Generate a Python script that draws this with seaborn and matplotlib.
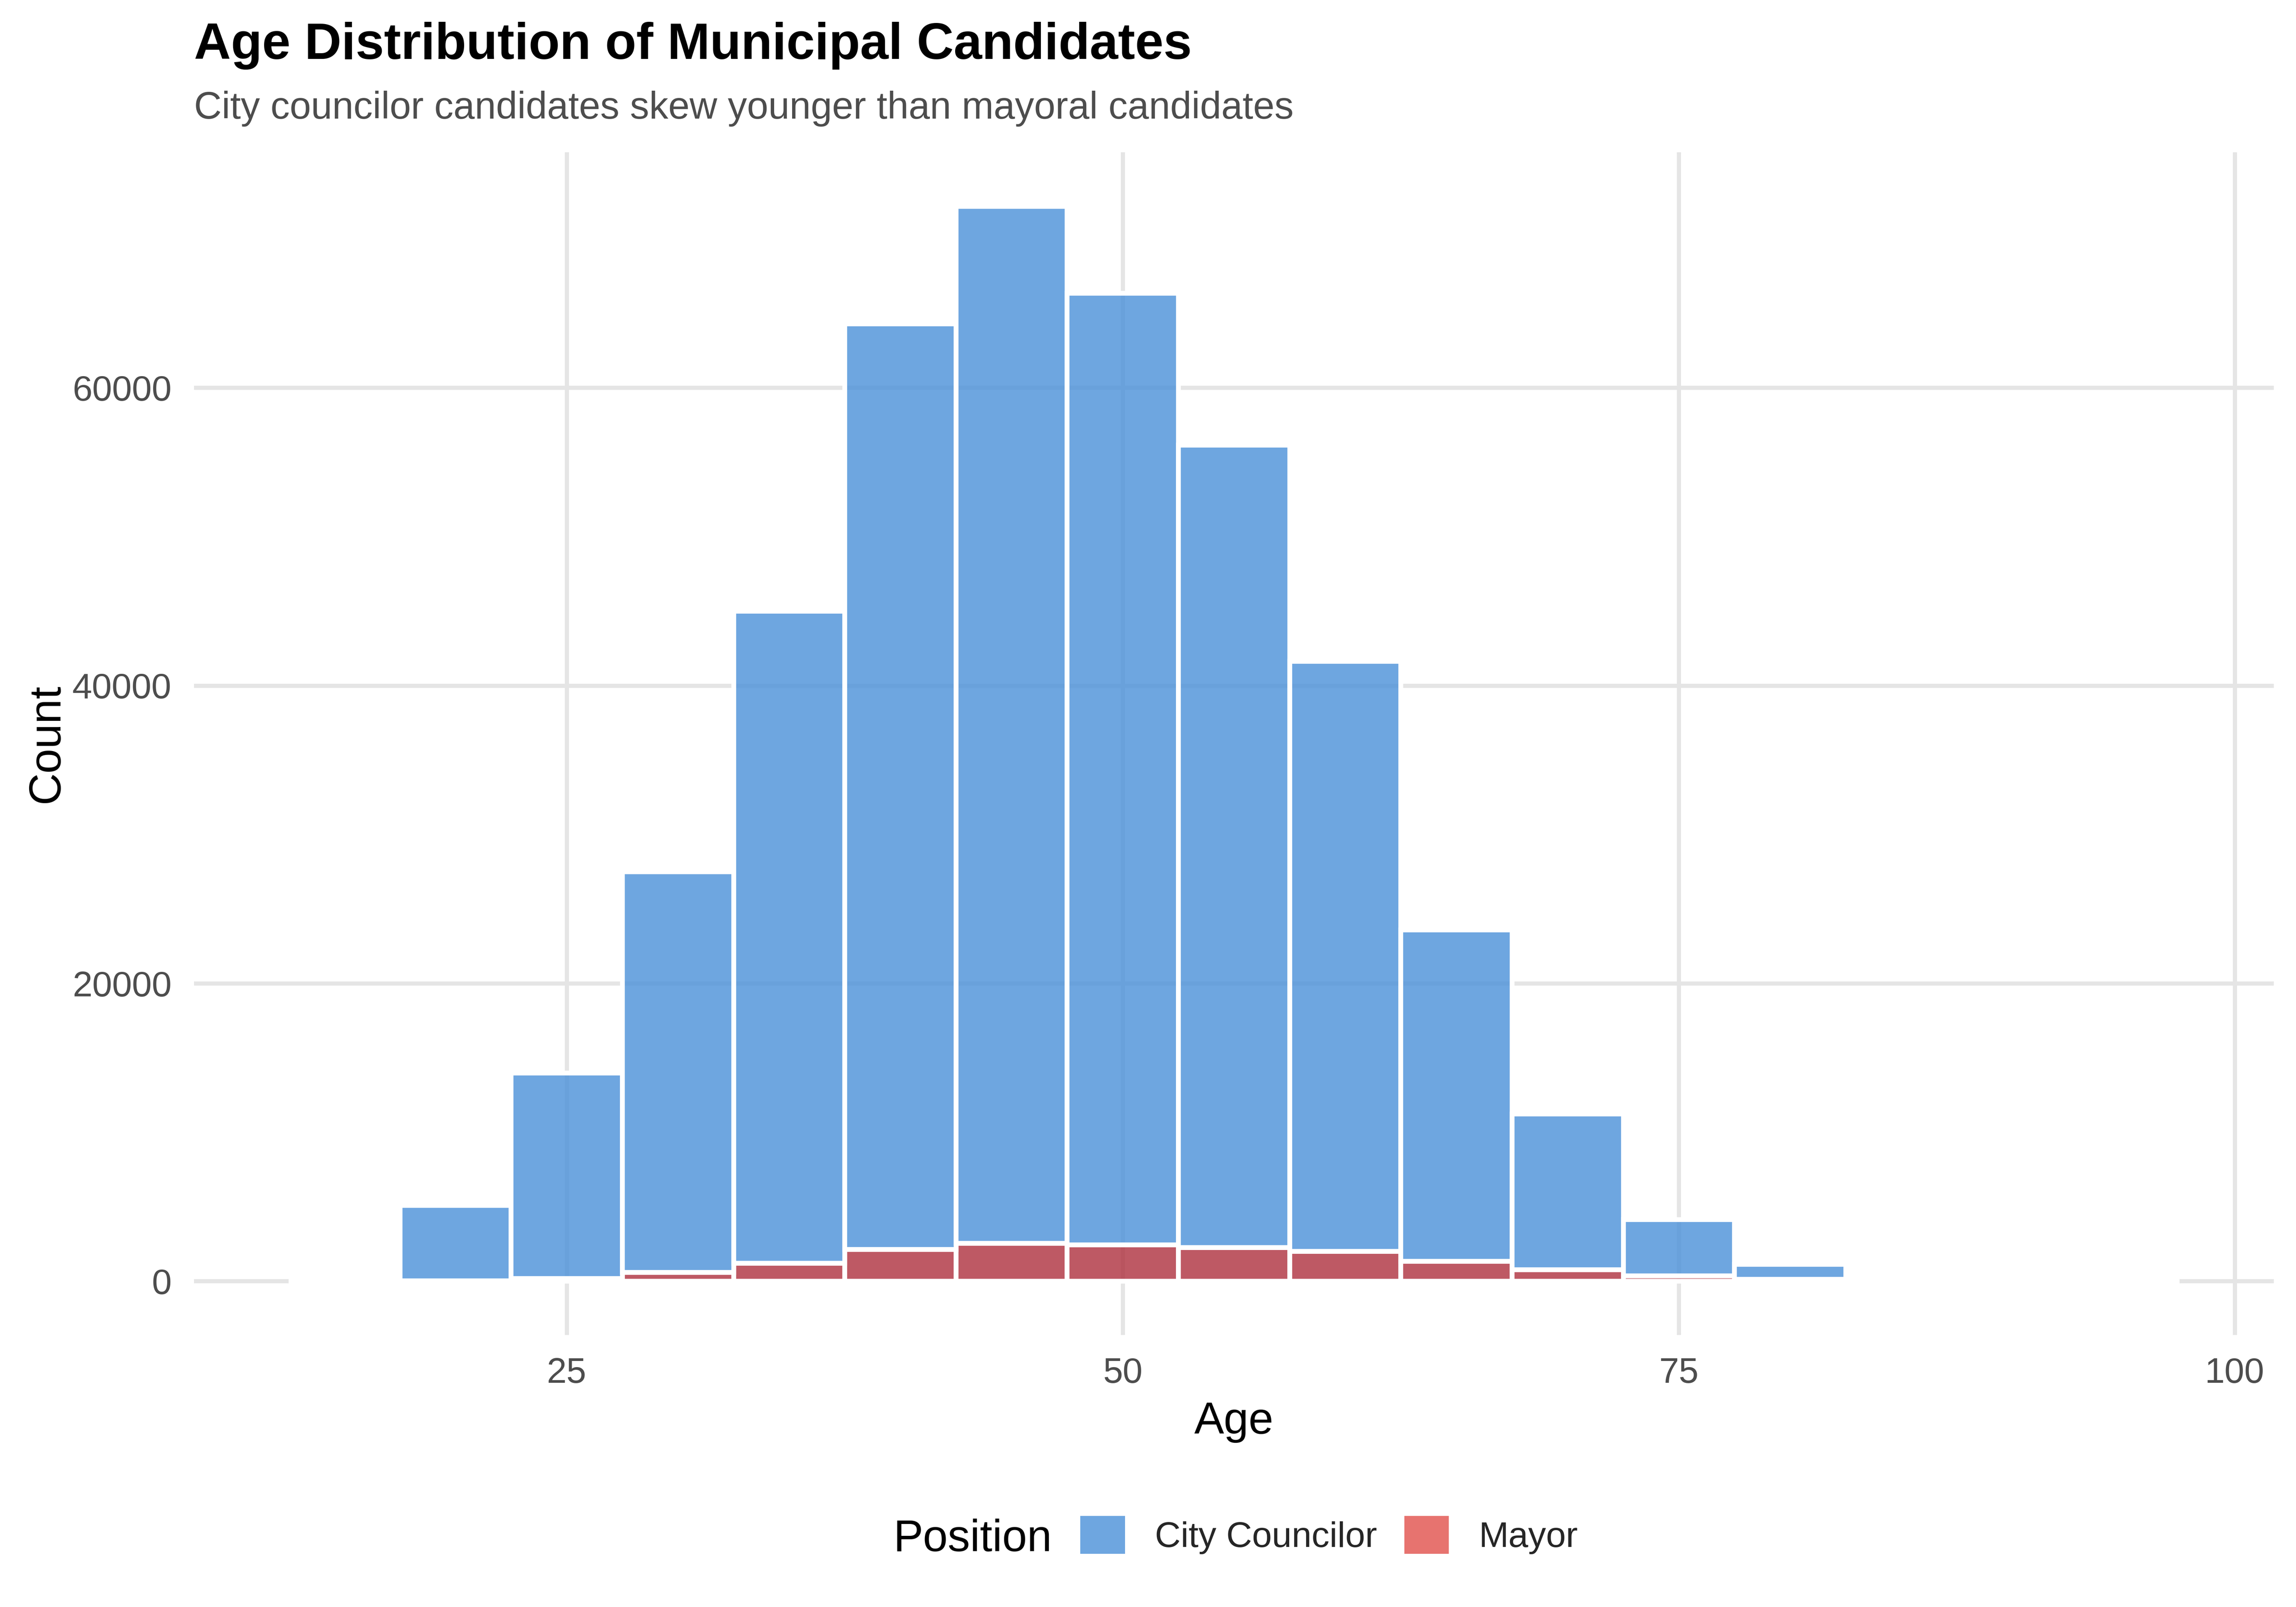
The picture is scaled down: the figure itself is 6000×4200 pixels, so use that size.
import matplotlib
matplotlib.use("Agg")
import matplotlib.pyplot as plt
import numpy as np
import pandas as pd
import seaborn as sns
from matplotlib.patches import Patch

# ---------------- data ----------------
age_bin_centres = [20, 25, 30, 35, 40, 45, 50, 55, 60, 65, 70, 75, 80]
councilor_counts = [5050, 13810, 26900, 43770, 62150, 69650, 63900, 53870, 39630, 22240, 10460, 3770, 1020]
mayor_counts = [50, 190, 600, 1230, 2150, 2550, 2450, 2280, 2020, 1360, 790, 380, 130]
positions = ["City Councilor", "Mayor"]
bin_start, bin_end, bin_width = 12.5, 97.5, 5
x_ticks = [25, 50, 75, 100]
y_ticks = [0, 20000, 40000, 60000]

title_text = "Age Distribution of Municipal Candidates"
subtitle_text = "City councilor candidates skew younger than mayoral candidates"
x_title = "Age"
y_title = "Count"
legend_title = "Position"

# ---------------- styles ----------------
bar_colors = {"City Councilor": "#4A90D9", "Mayor": "#AE303D"}
legend_colors = {"City Councilor": "#4A90D9", "Mayor": "#E2504B"}
bar_alpha = 0.8
grid_color = "#E5E5E5"
text_grey = "#4D4D4D"

sns.set_style("white")
plt.rcParams["font.family"] = ["Liberation Sans", "DejaVu Sans"]

df = pd.DataFrame({
    "Age": age_bin_centres * 2,
    "Count": councilor_counts + mayor_counts,
    "Position": [positions[0]] * len(age_bin_centres) + [positions[1]] * len(age_bin_centres),
})

fig = plt.figure(figsize=(20, 14), dpi=300)
ax_left, ax_right, ax_bottom, ax_top = 0.0845, 0.9903, 0.1693, 0.9052
ax = fig.add_axes([ax_left, ax_bottom, ax_right - ax_left, ax_top - ax_bottom])

sns.histplot(
    data=df, x="Age", weights="Count", hue="Position", hue_order=positions,
    multiple="stack", binwidth=bin_width, binrange=(bin_start, bin_end),
    palette=bar_colors, alpha=bar_alpha,
    edgecolor="white", linewidth=3.0, legend=False, ax=ax,
)

# limits like ggplot's 5% expansion
totals = np.array(councilor_counts) + np.array(mayor_counts)
ymax = totals.max()
ax.set_ylim(-0.05 * ymax, 1.05 * ymax)
xr = bin_end - bin_start
ax.set_xlim(bin_start - 0.05 * xr, bin_end + 0.05 * xr)

ax.set_xticks(x_ticks)
ax.set_yticks(y_ticks)
ax.set_yticklabels([str(v) for v in y_ticks])
ax.tick_params(axis="both", length=0, pad=14, labelsize=22.4, labelcolor=text_grey)
ax.grid(True, color=grid_color, linewidth=2.6)
ax.set_axisbelow(True)
for s in ax.spines.values():
    s.set_visible(False)

ax.set_xlabel(x_title, fontsize=28, color="black")
ax.xaxis.set_label_coords(0.5, -0.0835)
ax.xaxis.label.set_va("baseline")
ax.set_ylabel(y_title, fontsize=28, color="black")
ax.yaxis.set_label_coords(-0.0651, 0.5)
ax.yaxis.label.set_va("baseline")

fig.text(ax_left, 0.9633, title_text, fontsize=32, fontweight="bold", color="black",
         ha="left", va="baseline")
fig.text(ax_left, 0.9262, subtitle_text, fontsize=24, color=text_grey,
         ha="left", va="baseline")

# legend at bottom, title inline
fig.text(0.389, 0.03476, legend_title, fontsize=28, color="black", ha="left", va="baseline")
handles = [Patch(facecolor=legend_colors[p], alpha=bar_alpha, edgecolor="none") for p in positions]
fig.legend(handles, positions, loc="center left", bbox_to_anchor=(0.4705, 0.0448),
           ncol=2, frameon=False, fontsize=22.4, handlelength=1.25, handleheight=1.25,
           handletextpad=0.84, columnspacing=0.76, borderpad=0, borderaxespad=0)

fig.savefig("out.png", dpi=300)
